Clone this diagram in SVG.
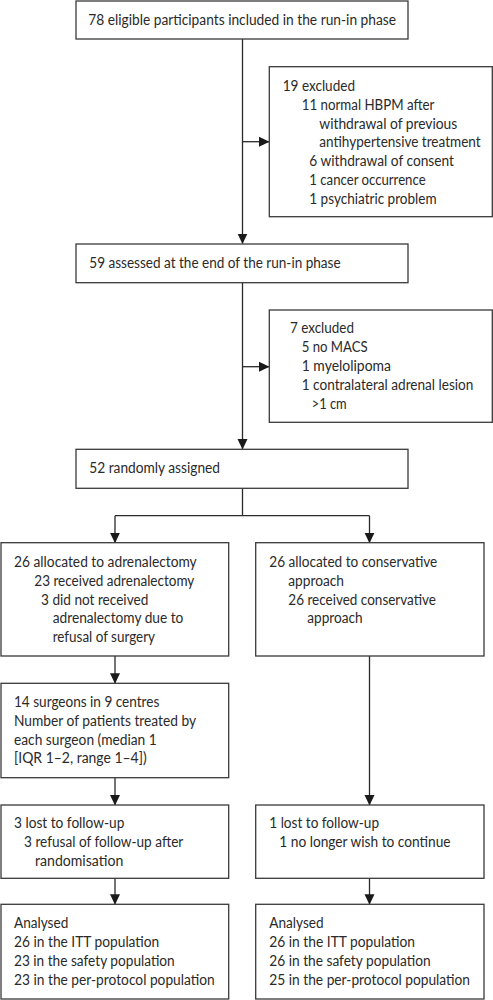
<svg xmlns="http://www.w3.org/2000/svg" width="493" height="1000" viewBox="0 0 493 1000">
<style>
.box{fill:#fff;stroke:#3a3a3a;stroke-width:1.3}
.t{font-family:Lato,"Liberation Sans",Arial,sans-serif;font-size:14.5px;fill:#2a2a2a}
.c{fill:none;stroke:#2a2a2a;stroke-width:1.3}
</style>
<defs>
<marker id="ah" markerUnits="userSpaceOnUse" markerWidth="11" markerHeight="11" refX="10" refY="5.5" orient="auto" viewBox="0 0 11 11">
<path d="M0,0.5 L10.5,5.5 L0,10.5 z" fill="#1a1a1a"/>
</marker>
</defs>
<rect width="493" height="1000" fill="#fff"/>
<g id="connectors">
<path class="c" d="M242.5,39 V243.5" marker-end="url(#ah)"/>
<path class="c" d="M242.5,141.7 H269" marker-end="url(#ah)"/>
<path class="c" d="M242.5,283 V449" marker-end="url(#ah)"/>
<path class="c" d="M242.5,366.7 H269" marker-end="url(#ah)"/>
<path class="c" d="M242.5,488.3 V515.7 M115,515.7 H369.5"/>
<path class="c" d="M115,515.7 V542.7" marker-end="url(#ah)"/>
<path class="c" d="M369.5,515.7 V542.7" marker-end="url(#ah)"/>
<path class="c" d="M115,656 V683.3" marker-end="url(#ah)"/>
<path class="c" d="M115,777.7 V805" marker-end="url(#ah)"/>
<path class="c" d="M369.5,656 V805" marker-end="url(#ah)"/>
<path class="c" d="M115,878.3 V904.3" marker-end="url(#ah)"/>
<path class="c" d="M369.5,878.3 V904.3" marker-end="url(#ah)"/>
</g>
<g id="n1">
<rect class="box" x="76" y="1" width="332" height="38"/>
<text class="t" x="88.3" y="24.5" textLength="307.7" lengthAdjust="spacingAndGlyphs">78 eligible participants included in the run-in phase</text>
</g>
<g id="n2">
<rect class="box" x="269.3" y="66.7" width="223" height="150"/>
<text class="t" x="282.7" y="90.7" textLength="72.3" lengthAdjust="spacingAndGlyphs">19 excluded</text>
<text class="t" x="301.7" y="109.6" textLength="132.7" lengthAdjust="spacingAndGlyphs">11 normal HBPM after</text>
<text class="t" x="319.3" y="128.5" textLength="138" lengthAdjust="spacingAndGlyphs">withdrawal of previous</text>
<text class="t" x="319.3" y="147.4" textLength="161.3" lengthAdjust="spacingAndGlyphs">antihypertensive treatment</text>
<text class="t" x="309.3" y="166.3" textLength="144.7" lengthAdjust="spacingAndGlyphs">6 withdrawal of consent</text>
<text class="t" x="309.3" y="185.2" textLength="116.3" lengthAdjust="spacingAndGlyphs">1 cancer occurrence</text>
<text class="t" x="309.3" y="204.1" textLength="127.3" lengthAdjust="spacingAndGlyphs">1 psychiatric problem</text>
</g>
<g id="n3">
<rect class="box" x="76" y="244" width="332" height="38.7"/>
<text class="t" x="89.3" y="267.5" textLength="251.3" lengthAdjust="spacingAndGlyphs">59 assessed at the end of the run-in phase</text>
</g>
<g id="n4">
<rect class="box" x="269.3" y="310" width="223" height="112.3"/>
<text class="t" x="290" y="333.3" textLength="64" lengthAdjust="spacingAndGlyphs">7 excluded</text>
<text class="t" x="301.7" y="352.2" textLength="66" lengthAdjust="spacingAndGlyphs">5 no MACS</text>
<text class="t" x="301.7" y="371.1" textLength="89.3" lengthAdjust="spacingAndGlyphs">1 myelolipoma</text>
<text class="t" x="301.7" y="390" textLength="171.7" lengthAdjust="spacingAndGlyphs">1 contralateral adrenal lesion</text>
<text class="t" x="311.7" y="408.9" textLength="35" lengthAdjust="spacingAndGlyphs">&gt;1 cm</text>
</g>
<g id="n5">
<rect class="box" x="76" y="449.3" width="332" height="39"/>
<text class="t" x="89.3" y="473.3" textLength="130.7" lengthAdjust="spacingAndGlyphs">52 randomly assigned</text>
</g>
<g id="n6">
<rect class="box" x="1" y="542.7" width="227.7" height="113.3"/>
<text class="t" x="14" y="566.7" textLength="182.7" lengthAdjust="spacingAndGlyphs">26 allocated to adrenalectomy</text>
<text class="t" x="34.3" y="585.6" textLength="160" lengthAdjust="spacingAndGlyphs">23 received adrenalectomy</text>
<text class="t" x="41" y="604.5" textLength="107.3" lengthAdjust="spacingAndGlyphs">3 did not received</text>
<text class="t" x="52.7" y="623.4" textLength="130.7" lengthAdjust="spacingAndGlyphs">adrenalectomy due to</text>
<text class="t" x="52.7" y="642.3" textLength="102.3" lengthAdjust="spacingAndGlyphs">refusal of surgery</text>
</g>
<g id="n7">
<rect class="box" x="255.7" y="542.7" width="228.3" height="113.3"/>
<text class="t" x="269.3" y="566.7" textLength="168" lengthAdjust="spacingAndGlyphs">26 allocated to conservative</text>
<text class="t" x="288.3" y="585.6" textLength="55.7" lengthAdjust="spacingAndGlyphs">approach</text>
<text class="t" x="288.3" y="604.5" textLength="147.7" lengthAdjust="spacingAndGlyphs">26 received conservative</text>
<text class="t" x="307.3" y="623.4" textLength="55.3" lengthAdjust="spacingAndGlyphs">approach</text>
</g>
<g id="n8">
<rect class="box" x="1" y="683.3" width="227.7" height="94.4"/>
<text class="t" x="14" y="706.7" textLength="145.3" lengthAdjust="spacingAndGlyphs">14 surgeons in 9 centres</text>
<text class="t" x="14" y="725.6" textLength="182" lengthAdjust="spacingAndGlyphs">Number of patients treated by</text>
<text class="t" x="14" y="744.5" textLength="142.7" lengthAdjust="spacingAndGlyphs">each surgeon (median 1</text>
<text class="t" x="14" y="763.4" textLength="132.7" lengthAdjust="spacingAndGlyphs">[IQR 1–2, range 1–4])</text>
</g>
<g id="n9">
<rect class="box" x="1" y="805" width="227.7" height="73.3"/>
<text class="t" x="14" y="828.3" textLength="110.3" lengthAdjust="spacingAndGlyphs">3 lost to follow-up</text>
<text class="t" x="24" y="847.2" textLength="159.3" lengthAdjust="spacingAndGlyphs">3 refusal of follow-up after</text>
<text class="t" x="35" y="866.1" textLength="88.3" lengthAdjust="spacingAndGlyphs">randomisation</text>
</g>
<g id="n10">
<rect class="box" x="255.7" y="805" width="228.3" height="73.3"/>
<text class="t" x="269.3" y="828.3" textLength="109.7" lengthAdjust="spacingAndGlyphs">1 lost to follow-up</text>
<text class="t" x="279.3" y="847.2" textLength="171.3" lengthAdjust="spacingAndGlyphs">1 no longer wish to continue</text>
</g>
<g id="n11">
<rect class="box" x="1" y="904.3" width="227.7" height="94.7"/>
<text class="t" x="14" y="928.3" textLength="54.3" lengthAdjust="spacingAndGlyphs">Analysed</text>
<text class="t" x="14" y="947.2" textLength="145.3" lengthAdjust="spacingAndGlyphs">26 in the ITT population</text>
<text class="t" x="14" y="966.1" textLength="160.7" lengthAdjust="spacingAndGlyphs">23 in the safety population</text>
<text class="t" x="14" y="985" textLength="200.7" lengthAdjust="spacingAndGlyphs">23 in the per-protocol population</text>
</g>
<g id="n12">
<rect class="box" x="255.7" y="904.3" width="228.3" height="94.7"/>
<text class="t" x="269.3" y="928.3" textLength="54.3" lengthAdjust="spacingAndGlyphs">Analysed</text>
<text class="t" x="269.3" y="947.2" textLength="145.7" lengthAdjust="spacingAndGlyphs">26 in the ITT population</text>
<text class="t" x="269.3" y="966.1" textLength="161.3" lengthAdjust="spacingAndGlyphs">26 in the safety population</text>
<text class="t" x="269.3" y="985" textLength="200.7" lengthAdjust="spacingAndGlyphs">25 in the per-protocol population</text>
</g>
</svg>
